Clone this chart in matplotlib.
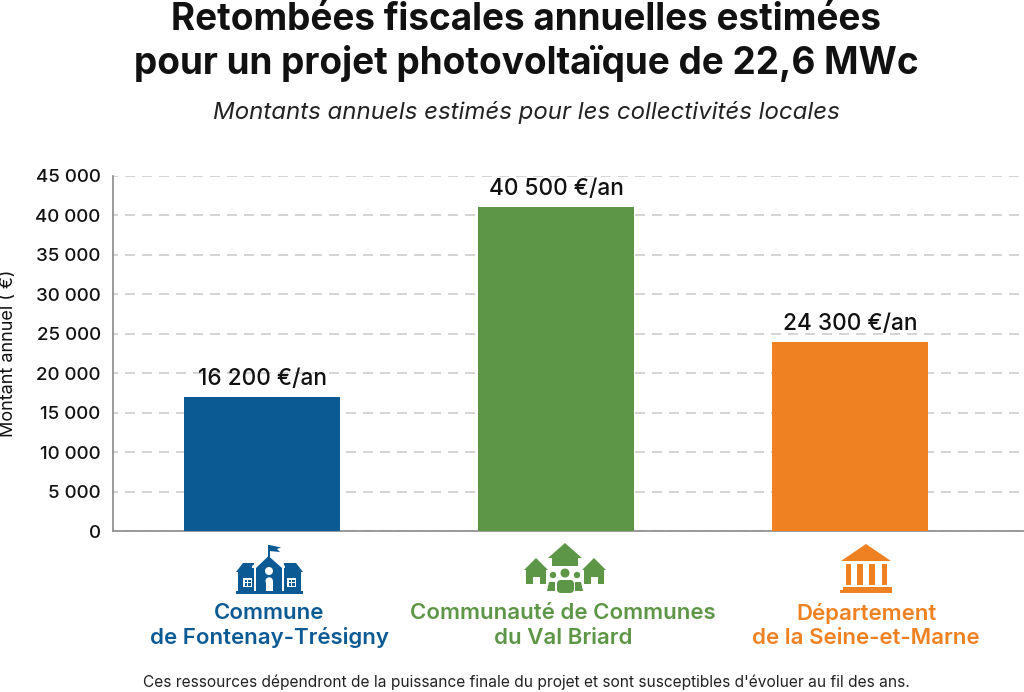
import matplotlib
matplotlib.use("Agg")
import matplotlib.pyplot as plt
from matplotlib.patches import Polygon, Rectangle, Circle, FancyBboxPatch

plt.rcParams['font.family'] = ['Inter', 'DejaVu Sans']

W, H = 1024, 692

categories = ["Commune\nde Fontenay-Trésigny", "Communauté de Communes\ndu Val Briard", "Département\nde la Seine-et-Marne"]
bar_values = [17000, 41000, 23900]
bar_labels = ["16 200 €/an", "40 500 €/an", "24 300 €/an"]
colors = ["#0B5A94", "#5E9647", "#F08122"]
y_ticks = [0, 5000, 10000, 15000, 20000, 25000, 30000, 35000, 40000, 45000]
y_tick_labels = ["0", "5 000", "10 000", "15 000", "20 000", "25 000", "30 000", "35 000", "40 000", "45 000"]

fig = plt.figure(figsize=(W / 100, H / 100), dpi=100)

# main chart
ax = fig.add_axes([112.5 / W, 1 - 531 / H, (W - 112.5) / W, 355.5 / H])
positions = [0, 1, 2]
ax.bar(positions, bar_values, width=0.53, color=colors, zorder=3)
ax.set_xlim(-0.5085, 2.59)
ax.set_ylim(0, 45030)
ax.set_yticks(y_ticks)
ax.set_yticklabels(y_tick_labels, fontsize=13.5, color="#111111", fontweight="medium")
ax.set_xticks([])
ax.tick_params(axis="y", length=0, pad=8.5)
ax.yaxis.grid(True, color="#CDCDCD", linestyle=(3, (6, 4.2)), linewidth=1.2, zorder=0)
ax.set_axisbelow(True)
for s in ["top", "right"]:
    ax.spines[s].set_visible(False)
for s in ["left", "bottom"]:
    ax.spines[s].set_color("#8A8A8A")
    ax.spines[s].set_linewidth(1.2)

for x, v, lab in zip(positions, bar_values, bar_labels):
    ax.annotate(lab, (x, v), xytext=(0, 5), textcoords="offset points", ha="center", va="bottom",
                fontsize=16.3, color="#111111", fontweight="medium")

# overlay in pixels for texts and icons
ov = fig.add_axes([0, 0, 1, 1])
ov.set_xlim(0, W)
ov.set_ylim(H, 0)
ov.axis("off")

ov.text(526, 20, "Retombées fiscales annuelles estimées", ha="center", va="center",
        fontsize=26.6, fontweight="bold", color="#111111")
ov.text(526, 64, "pour un projet photovoltaïque de 22,6 MWc", ha="center", va="center",
        fontsize=26.6, fontweight="bold", color="#111111")
ov.text(526, 112, "Montants annuels estimés pour les collectivités locales", ha="center", va="center",
        fontsize=17.3, style="italic", color="#222222")
ov.text(9, 353, "Montant annuel ( €)", rotation=90, ha="center", va="center", fontsize=13, color="#111111")
ov.text(526, 682, "Ces ressources dépendront de la puissance finale du projet et sont susceptibles d'évoluer au fil des ans.",
        ha="center", va="center", fontsize=11.15, color="#222222")

for cx, cat, c in zip([269, 563, 866], categories, colors):
    l1, l2 = cat.split("\n")
    ov.text(cx, 613, l1, ha="center", va="center", fontsize=16, fontweight="semibold", color=c)
    ov.text(cx, 638, l2, ha="center", va="center", fontsize=16, fontweight="semibold", color=c)


def poly(pts, c):
    ov.add_patch(Polygon(pts, closed=True, facecolor=c, edgecolor="none"))


def rect(x, y, w, h, c):
    ov.add_patch(Rectangle((x, y), w, h, facecolor=c, edgecolor="none"))


def circ(x, y, r, c):
    ov.add_patch(Circle((x, y), r, facecolor=c, edgecolor="none"))


# school icon
c = colors[0]
rect(236, 591, 67, 3, c)
rect(238, 572, 63, 19, c)
poly([(236, 572), (243, 563), (296, 563), (303, 572)], c)
rect(254, 563, 30, 28, "white")
poly([(252, 566), (268.5, 553), (285, 566), (285, 568), (252, 568)], "white")
poly([(256, 568), (268.5, 556), (282, 568), (282, 591), (256, 591)], c)
rect(268, 545, 1.6, 12, c)
poly([(269.5, 545), (281, 547.5), (277, 549), (280, 552), (269.5, 551)], c)
circ(269, 571, 4, "white")
rect(265.5, 581, 7.5, 10, "white")
circ(269.2, 581, 3.7, "white")
for wx in [243, 287]:
    rect(wx, 578, 9, 9, "white")
    rect(wx + 1.5, 579.5, 2.5, 2.5, c)
    rect(wx + 5, 579.5, 2.5, 2.5, c)
    rect(wx + 1.5, 583, 2.5, 2.5, c)
    rect(wx + 5, 583, 2.5, 2.5, c)

# houses + people icon
c = colors[1]
poly([(565, 543), (582, 558), (578, 558), (578, 566), (552, 566), (552, 558), (548, 558)], c)
for hx in [536, 594]:
    poly([(hx, 558), (hx + 12, 570), (hx + 10, 570), (hx + 10, 584), (hx + 4, 584), (hx + 4, 577),
          (hx - 3, 577), (hx - 3, 584), (hx - 10, 584), (hx - 10, 570), (hx - 12, 570)], c)
circ(565, 573, 4.5, c)
circ(553, 575, 3.2, c)
circ(577, 575, 3.2, c)
ov.add_patch(FancyBboxPatch((557, 580), 17, 13, boxstyle="round,pad=0,rounding_size=4", facecolor=c, edgecolor="none"))
poly([(547, 591), (549, 582), (555, 582), (555, 591)], c)
poly([(575, 591), (575, 582), (581, 582), (583, 591)], c)

# public building icon
c = colors[2]
poly([(866, 544), (891, 561), (841, 561)], c)
for px, pw in zip([846, 857, 869, 882], [4.5, 6, 6, 4.5]):
    rect(px, 564, pw, 21, c)
rect(843, 587, 49, 3, c)
rect(840, 590, 52, 3, c)

fig.savefig("out.png", dpi=100)
